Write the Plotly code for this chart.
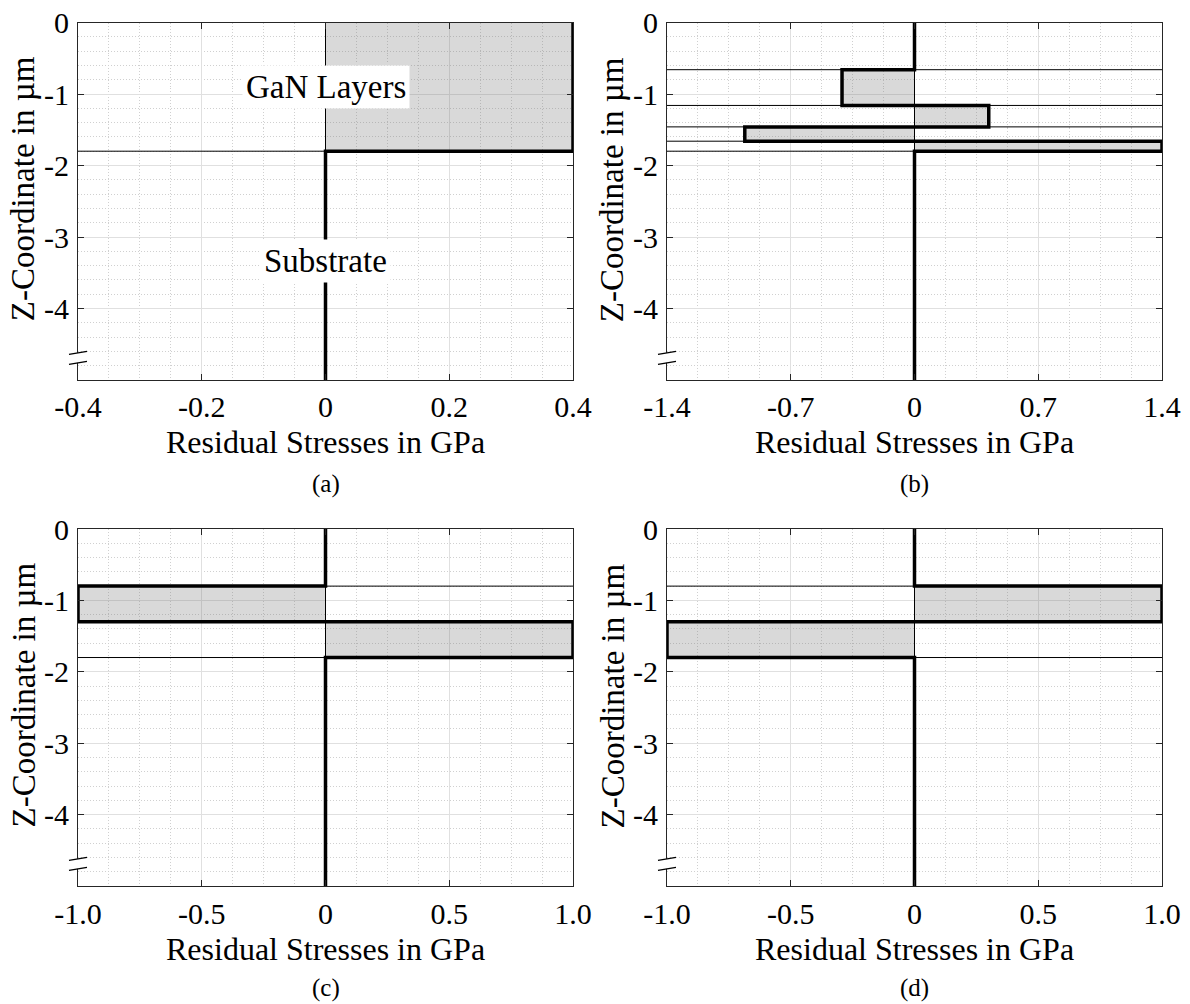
import plotly.graph_objects as go

W, H = 1190, 1004

# ---------------- data ----------------
panel_labels = ["(a)", "(b)", "(c)", "(d)"]

# layer boundaries (z in µm) and stress of each interval (GPa); last interval = substrate
z_a = [0, -1.8, -5]
s_a = [0.4, 0]
z_b = [0, -0.66, -1.16, -1.46, -1.66, -1.8, -5]
s_b = [0, -0.41, 0.42, -0.96, 1.4, 0]
z_c = [0, -0.8, -1.3, -1.8, -5]
s_c = [0, -1.0, 1.0, 0]
z_d = [0, -0.8, -1.3, -1.8, -5]
s_d = [0, 1.0, -1.0, 0]

xticks_a = [-0.4, -0.2, 0, 0.2, 0.4]
xlabels_a = ["-0.4", "-0.2", "0", "0.2", "0.4"]
xticks_b = [-1.4, -0.7, 0, 0.7, 1.4]
xlabels_b = ["-1.4", "-0.7", "0", "0.7", "1.4"]
xticks_c = [-1.0, -0.5, 0, 0.5, 1.0]
xlabels_c = ["-1.0", "-0.5", "0", "0.5", "1.0"]
xticks_d = [-1.0, -0.5, 0, 0.5, 1.0]
xlabels_d = ["-1.0", "-0.5", "0", "0.5", "1.0"]

yticks = [0, -1, -2, -3, -4]
ylabels = ["0", "-1", "-2", "-3", "-4"]
y_range = [-5, 0]
x_minor = [0.05, 0.175, 0.125, 0.125]
y_minor = 0.2
break_z = [-4.62, -4.76]

x_title = "Residual Stresses in GPa"
y_title = "Z-Coordinate in µm"
annot_a = [("GaN Layers", 0.0, -0.9), ("Substrate", 0.0, -3.33)]

# ---------------- layout geometry (pixels) ----------------
cols = [(78, 573), (667, 1162)]
rows = [(22.5, 380), (529, 886)]
title_off = [62, 63]
cap_off = [104, 102]
tick_standoff = [0, 1]
FONT = "Liberation Serif"
FS = 30
FS_X = 32
FS_Y = 33
FS_CAP = 25
FS_ANN = 33

panels = [
    (z_a, s_a, xticks_a, xlabels_a),
    (z_b, s_b, xticks_b, xlabels_b),
    (z_c, s_c, xticks_c, xlabels_c),
    (z_d, s_d, xticks_d, xlabels_d),
]

fig = go.Figure()
layout = dict(width=W, height=H, margin=dict(l=0, r=0, t=0, b=0, autoexpand=False),
              paper_bgcolor="white", plot_bgcolor="white", showlegend=False,
              font=dict(family=FONT, size=FS, color="black"))
shapes = []
annotations = []

AX = "#262626"
GRID = "#e0e0e0"
MGRID = "#d0d0d0"

for i, (z, s, xt, xl) in enumerate(panels):
    r, c = divmod(i, 2)
    n = i + 1
    xa = "x" if n == 1 else f"x{n}"
    ya = "y" if n == 1 else f"y{n}"
    px0, px1 = cols[c]
    py0, py1 = rows[r]
    xd = [px0 / W, px1 / W]
    yd = [1 - py1 / H, 1 - py0 / H]
    xr = [xt[0], xt[-1]]

    layout["xaxis" if n == 1 else f"xaxis{n}"] = dict(
        domain=xd, anchor=ya, range=xr, tickmode="array", tickvals=xt, ticktext=xl,
        automargin=False,
        showline=True, linecolor=AX, linewidth=1, mirror="ticks",
        ticks="inside", ticklen=6, tickcolor=AX, tickwidth=1,
        showgrid=True, gridcolor=GRID, gridwidth=1, zeroline=False,
        minor=dict(tickmode="linear", tick0=0, dtick=x_minor[i], showgrid=True,
                   gridcolor=MGRID, griddash="1px,2px", gridwidth=1, ticks=""),
        tickfont=dict(family=FONT, size=FS, color="black"), ticklabelstandoff=tick_standoff[r],
    )
    layout["yaxis" if n == 1 else f"yaxis{n}"] = dict(
        domain=yd, anchor=xa, range=y_range, tickmode="array", tickvals=yticks, ticktext=ylabels,
        automargin=False,
        showline=True, linecolor=AX, linewidth=1, mirror="ticks",
        ticks="inside", ticklen=6, tickcolor=AX, tickwidth=1,
        showgrid=True, gridcolor=GRID, gridwidth=1, zeroline=False,
        minor=dict(tickmode="linear", tick0=0, dtick=y_minor, showgrid=True,
                   gridcolor=MGRID, griddash="1px,2px", gridwidth=1, ticks=""),
        tickfont=dict(family=FONT, size=FS, color="black"), ticklabelstandoff=2,
    )

    # gray patches for stressed layers
    for k in range(len(s) - 1):
        if s[k] != 0:
            fig.add_trace(go.Scatter(
                x=[0, s[k], s[k], 0, 0], y=[z[k], z[k], z[k + 1], z[k + 1], z[k]],
                mode="lines", fill="toself", fillcolor="rgba(120,120,120,0.28)",
                line=dict(color="black", width=1), xaxis=xa, yaxis=ya, hoverinfo="skip"))

    # thin full-width layer boundaries
    bx, by = [], []
    for zb in z[1:-1]:
        bx += [xr[0], xr[1], None]
        by += [zb, zb, None]
    fig.add_trace(go.Scatter(x=bx, y=by, mode="lines", line=dict(color="black", width=1),
                             xaxis=xa, yaxis=ya, hoverinfo="skip"))

    # thick stress profile
    px, py = [], []
    for k in range(len(s)):
        px += [s[k], s[k]]
        py += [z[k], z[k + 1]]
    fig.add_trace(go.Scatter(x=px, y=py, mode="lines", line=dict(color="black", width=3.5),
                             xaxis=xa, yaxis=ya, hoverinfo="skip"))

    # axis break marks on the left axis
    def ypap(v):
        return yd[0] + (v - y_range[0]) / (y_range[1] - y_range[0]) * (yd[1] - yd[0])
    shapes.append(dict(type="rect", xref="paper", yref="paper",
                       x0=(px0 - 2) / W, x1=(px0 + 2) / W, y0=ypap(break_z[1]), y1=ypap(break_z[0]),
                       fillcolor="white", line=dict(width=0), layer="above"))
    for zb in break_z:
        shapes.append(dict(type="line", xref="paper", yref="paper",
                           x0=(px0 - 9) / W, x1=(px0 + 9) / W,
                           y0=ypap(zb) - 1.5 / H, y1=ypap(zb) + 1.5 / H,
                           line=dict(color="black", width=1.2), layer="above"))

    xc = (px0 + px1) / 2 / W
    annotations.append(dict(text=x_title, xref="paper", yref="paper", x=xc, y=1 - (py1 + title_off[r]) / H,
                            showarrow=False, xanchor="center", yanchor="middle",
                            font=dict(family=FONT, size=FS_X, color="black")))
    annotations.append(dict(text=panel_labels[i], xref="paper", yref="paper", x=xc,
                            y=1 - (py1 + cap_off[r]) / H,
                            showarrow=False, xanchor="center", yanchor="middle",
                            font=dict(family=FONT, size=FS_CAP, color="black")))
    annotations.append(dict(text=y_title, xref="paper", yref="paper", x=(px0 - 55) / W,
                            y=1 - ((py0 + py1) / 2 - 12) / H, textangle=-90,
                            showarrow=False, xanchor="center", yanchor="middle",
                            font=dict(family=FONT, size=FS_Y, color="black")))

for txt, xv, yv in annot_a:
    annotations.append(dict(text=txt, x=xv, y=yv, xref="x", yref="y", showarrow=False,
                            bgcolor="white", borderpad=3,
                            font=dict(family=FONT, size=FS_ANN, color="black")))

layout["shapes"] = shapes
layout["annotations"] = annotations
fig.update_layout(**layout)
fig.write_html("out.html")
